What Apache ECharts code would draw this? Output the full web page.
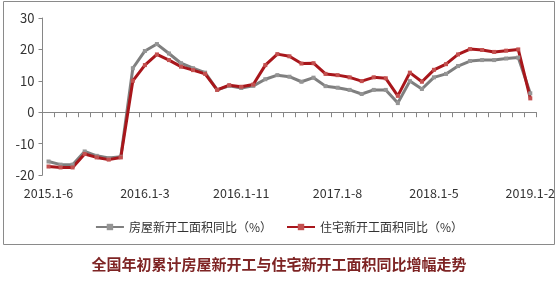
<!DOCTYPE html>
<html>
<head>
<meta charset="utf-8">
<script src="https://cdn.jsdelivr.net/npm/echarts@6/dist/echarts.min.js"></script>
<style>html,body{margin:0;padding:0;background:#fff;}#c{width:558px;height:286px;}</style>
</head>
<body>
<div id="c"></div>
<script>
const categories = [
  '2015.1-6','2015.1-7','2015.1-8','2015.1-9','2015.1-10','2015.1-11','2015.1-12',
  '2016.1-2','2016.1-3','2016.1-4','2016.1-5','2016.1-6','2016.1-7','2016.1-8','2016.1-9','2016.1-10','2016.1-11','2016.1-12',
  '2017.1-2','2017.1-3','2017.1-4','2017.1-5','2017.1-6','2017.1-7','2017.1-8','2017.1-9','2017.1-10','2017.1-11','2017.1-12',
  '2018.1-2','2018.1-3','2018.1-4','2018.1-5','2018.1-6','2018.1-7','2018.1-8','2018.1-9','2018.1-10','2018.1-11','2018.1-12',
  '2019.1-2'
];
const buildingStarts = [
  -15.7,-16.7,-16.7,-12.5,-13.9,-14.6,-14.2,
  14.0,19.5,21.7,18.7,15.6,14.0,12.6,7.1,8.4,7.7,8.4,
  10.5,11.8,11.3,9.7,11.0,8.3,7.8,7.1,5.8,7.1,7.1,
  2.9,9.9,7.4,11.1,12.2,14.7,16.3,16.6,16.6,17.1,17.4,
  6.0
];
const residentialStarts = [
  -17.3,-17.6,-17.6,-13.3,-14.4,-15.1,-14.4,
  10.0,15.0,18.4,16.6,14.5,13.4,12.2,7.1,8.6,8.1,8.8,
  15.0,18.5,17.8,15.5,15.6,12.2,11.8,11.1,9.9,11.1,10.8,
  5.2,12.6,9.7,13.5,15.3,18.4,20.1,19.8,19.2,19.6,20.0,
  4.4
];
const seriesNames = ['房屋新开工面积同比（%）','住宅新开工面积同比（%）'];
const chartTitle = '全国年初累计房屋新开工与住宅新开工面积同比增幅走势';

const font = '"Noto Sans CJK SC","Microsoft YaHei",sans-serif';
const chart = echarts.init(document.getElementById('c'), null, {renderer:'canvas'});
chart.setOption({
  animation:false,
  backgroundColor:'#fff',
  title:{
    text:chartTitle, left:'center', top:252,
    textStyle:{color:'#7e2424', fontSize:15, fontWeight:'bold', fontFamily:font}
  },
  graphic:[{
    type:'rect', shape:{x:3.5,y:1.5,width:551,height:243},
    style:{fill:'none', stroke:'#8a8a8a', lineWidth:1}, silent:true, z:-1
  }],
  legend:{
    top:216, left:'center', itemWidth:28, itemHeight:8, itemGap:14,
    textStyle:{fontSize:12, color:'#333', fontFamily:font},
    data:seriesNames
  },
  grid:{left:42.5, right:20, top:18, bottom:111},
  xAxis:[{
    type:'category', data:categories, boundaryGap:true,
    axisLine:{onZero:true, lineStyle:{color:'#868686', width:1}},
    axisTick:{show:true, interval:0, length:5, lineStyle:{color:'#868686'}},
    axisLabel:{show:false}
  },{
    type:'category', data:categories, boundaryGap:true, position:'bottom',
    axisLine:{show:false, onZero:false}, axisTick:{show:false},
    axisLabel:{interval:7, margin:12, fontSize:12.5, color:'#333', fontFamily:font}
  }],
  yAxis:{
    type:'value', min:-20, max:30, interval:10,
    axisLine:{show:true, lineStyle:{color:'#868686'}},
    axisTick:{show:true, length:4, lineStyle:{color:'#868686'}},
    splitLine:{show:false},
    axisLabel:{fontSize:13, color:'#333', margin:8, fontFamily:font}
  },
  series:[{
    name:seriesNames[0], type:'line', data:buildingStarts,
    symbol:'rect', symbolSize:4, showAllSymbol:true,
    lineStyle:{color:'#7f7f7f', width:3},
    itemStyle:{color:'#959595', borderWidth:0}
  },{
    name:seriesNames[1], type:'line', data:residentialStarts,
    symbol:'rect', symbolSize:4, showAllSymbol:true,
    lineStyle:{color:'#a8161b', width:3},
    itemStyle:{color:'#c4504f', borderWidth:0}
  }]
});
</script>
</body>
</html>
